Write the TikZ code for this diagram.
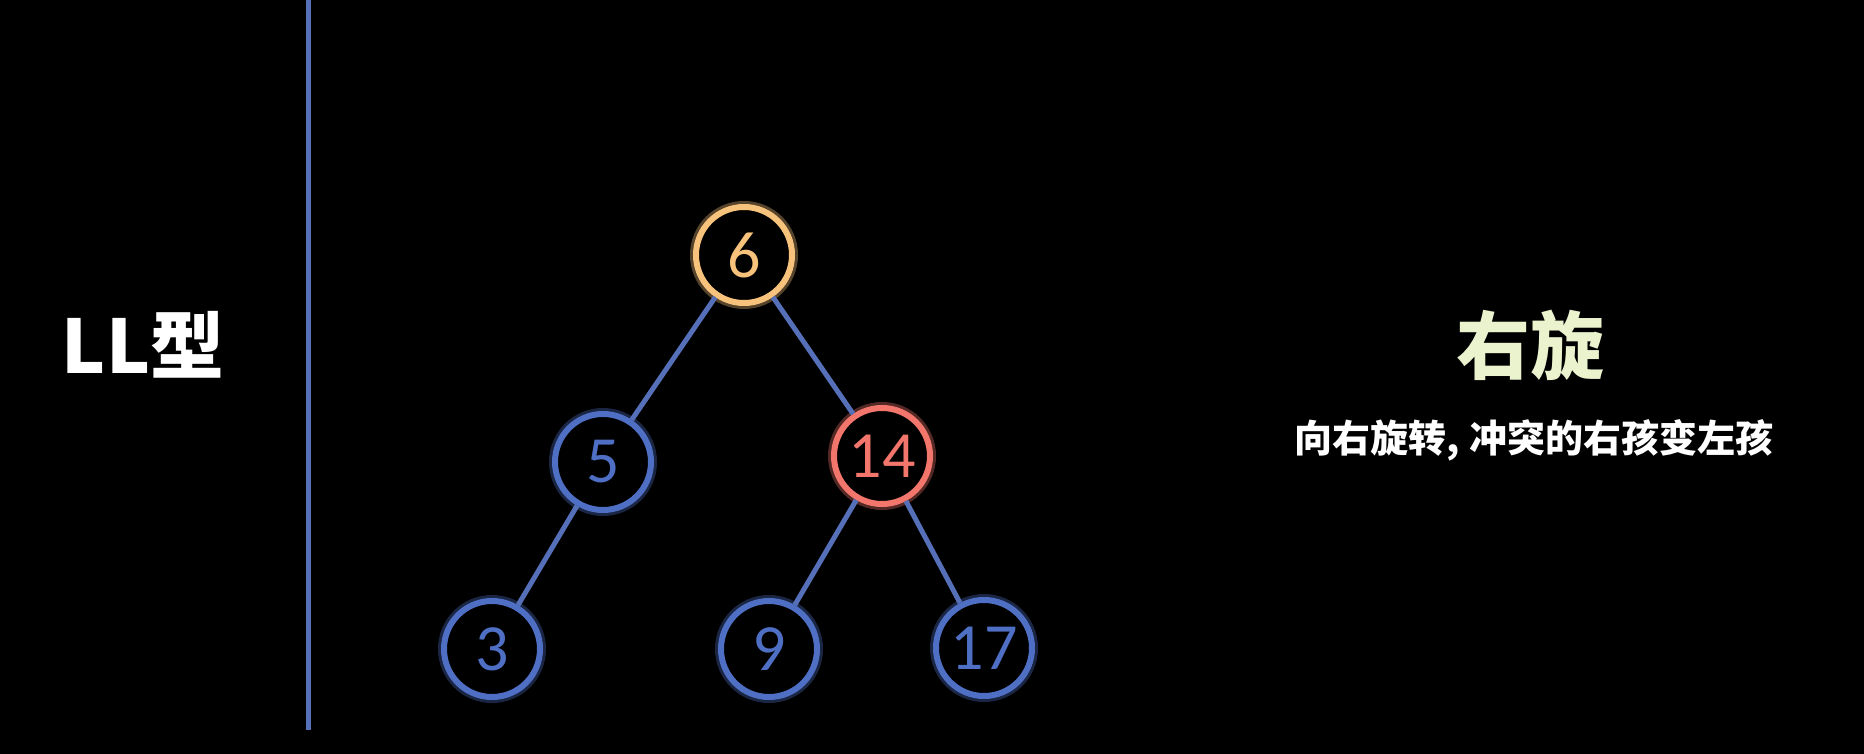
\documentclass[tikz,border=0pt]{standalone}
\usepackage{fontspec}
\setmainfont{Carlito}
\newfontfamily\cjk{Noto Sans CJK SC}
\definecolor{edgeblue}{HTML}{5570B8}
\definecolor{nodeblue}{HTML}{4E6FC4}
\definecolor{nodeorange}{HTML}{F7C27C}
\definecolor{nodered}{HTML}{F2766C}
\definecolor{titlegreen}{HTML}{EAF2CE}
\begin{document}
\begin{tikzpicture}[x=0.5pt,y=-0.5pt,
  treenode/.style={circle, draw=#1, line width=3pt, minimum size=48pt, inner sep=0pt,
    fill=black, text=#1, font=\fontsize{33pt}{33pt}\selectfont,
    preaction={draw=#1, line width=6pt, draw opacity=0.35}},
  link/.style={draw=edgeblue, line width=2.5pt}]
\fill[black] (0,0) rectangle (1864,754);
\useasboundingbox (0,0) rectangle (1864,754);
\coordinate (vtop) at (308,0);
\coordinate (vbot) at (308,730);
\draw[draw=edgeblue, line width=2.5pt] (vtop) -- (vbot);
\node[text=white, font=\cjk\bfseries\fontsize{37pt}{37pt}\selectfont] (ll) at (143,345) {LL型};
\node[text=titlegreen, font=\cjk\bfseries\fontsize{37pt}{37pt}\selectfont] (title) at (1530,345) {右旋};
\node[text=white, font=\cjk\bfseries\fontsize{19pt}{19pt}\selectfont] (sub) at (1534,440) {向右旋转, 冲突的右孩变左孩};
\node[treenode=nodeorange] (n6) at (744,255) {6};
\node[treenode=nodeblue] (n5) at (603,462) {5};
\node[treenode=nodered] (n14) at (882,456) {14};
\node[treenode=nodeblue] (n3) at (492,649) {3};
\node[treenode=nodeblue] (n9) at (769,649) {9};
\node[treenode=nodeblue] (n17) at (984,648) {17};
\draw[link] (n6) -- (n5);
\draw[link] (n6) -- (n14);
\draw[link] (n5) -- (n3);
\draw[link] (n14) -- (n9);
\draw[link] (n14) -- (n17);
\end{tikzpicture}
\end{document}
